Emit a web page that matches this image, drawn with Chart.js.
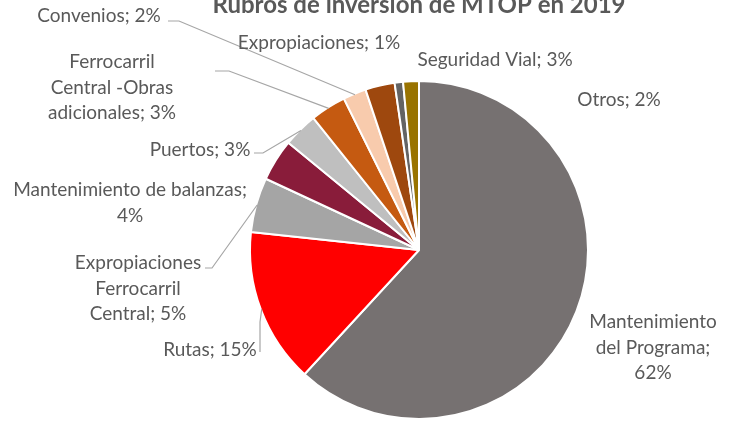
<!DOCTYPE html>
<html>
<head>
<meta charset="utf-8">
<script src="https://cdn.jsdelivr.net/npm/chart.js@4.4.0/dist/chart.umd.min.js"></script>
<style>
  html, body { margin: 0; background: #fff; }
  #contenedor { width: 734px; height: 423px; position: relative; }
</style>
</head>
<body>
<div id="contenedor"><canvas id="graficoTorta"></canvas></div>
<script>
// Datos del gráfico (sentido horario desde arriba)
const titulo = "Rubros de inversión de MTOP en 2019";
const rubros = [
  "Mantenimiento del Programa",
  "Rutas",
  "Expropiaciones Ferrocarril Central",
  "Mantenimiento de balanzas",
  "Puertos",
  "Ferrocarril Central -Obras adicionales",
  "Convenios",
  "Seguridad Vial",
  "Expropiaciones",
  "Otros"
];
const porcentajes = [61.6, 14.8, 5.2, 4.0, 3.3, 3.4, 2.2, 2.8, 0.8, 1.5];
const colores = ["#767171", "#FF0000", "#A5A5A5", "#891C3A", "#BFBFBF",
                 "#C55A11", "#F8CBAD", "#9E480E", "#636363", "#997300"];

// Ubicación de las etiquetas (centro x, y de la primera línea, palabras por línea, guía)
const etiquetas = [
  { x: 653, y: 322, palabras: [1, 2, 1] },
  { x: 210, y: 350, guia: [[260, 352], [260, 322]] },
  { x: 138, y: 263, palabras: [1, 1, 2], guia: [[205, 268], [212, 268]] },
  { x: 130, y: 190, palabras: [3, 1] },
  { x: 200, y: 150, guia: [[254, 153], [263, 153]] },
  { x: 112, y: 62, palabras: [1, 2, 2], guia: [[215, 71], [229, 71]] },
  { x: 99, y: 16, guia: [[168, 21], [179, 21]] },
  { x: 495, y: 60 },
  { x: 319, y: 43 },
  { x: 619, y: 100 }
];

const fuente = "Lato, 'Noto Sans', sans-serif";
const colorTexto = "#595959";

const pluginEtiquetas = {
  id: "etiquetas",
  afterDatasetsDraw(chart) {
    const ctx = chart.ctx;
    const arcos = chart.getDatasetMeta(0).data;
    ctx.save();

    // Título (cortado arriba como en el original)
    ctx.fillStyle = colorTexto;
    ctx.font = "bold 24px " + fuente;
    ctx.textAlign = "center";
    ctx.textBaseline = "alphabetic";
    ctx.fillText(titulo, 419, 13);

    ctx.font = "19px " + fuente;
    ctx.textBaseline = "middle";
    etiquetas.forEach((et, i) => {
      const texto = rubros[i] + "; " + Math.round(porcentajes[i]) + "%";
      const palabras = texto.split(" ");
      const grupos = et.palabras || [palabras.length];
      let k = 0;
      grupos.forEach((n, j) => {
        const linea = palabras.slice(k, k + n).join(" ");
        k += n;
        ctx.fillText(linea, et.x, et.y + j * 25.5);
      });

      if (et.guia) {
        const arco = arcos[i];
        const p = arco.getProps(["x", "y", "startAngle", "endAngle", "outerRadius"], true);
        const medio = (p.startAngle + p.endAngle) / 2;
        const fx = p.x + Math.cos(medio) * (p.outerRadius - 1);
        const fy = p.y + Math.sin(medio) * (p.outerRadius - 1);
        ctx.strokeStyle = "#A6A6A6";
        ctx.lineWidth = 1.2;
        ctx.beginPath();
        ctx.moveTo(et.guia[0][0], et.guia[0][1]);
        for (let m = 1; m < et.guia.length; m++) ctx.lineTo(et.guia[m][0], et.guia[m][1]);
        ctx.lineTo(fx, fy);
        ctx.stroke();
      }
    });
    ctx.restore();
  }
};

new Chart(document.getElementById("graficoTorta").getContext("2d"), {
  type: "pie",
  data: {
    labels: rubros,
    datasets: [{
      data: porcentajes,
      backgroundColor: colores,
      borderColor: "#ffffff",
      borderWidth: 2
    }]
  },
  options: {
    responsive: true,
    maintainAspectRatio: false,
    animation: false,
    layout: { padding: { top: 80, bottom: 3, left: 104, right: 0 } },
    plugins: {
      legend: { display: false },
      tooltip: { enabled: false }
    }
  },
  plugins: [pluginEtiquetas]
});
</script>
</body>
</html>
